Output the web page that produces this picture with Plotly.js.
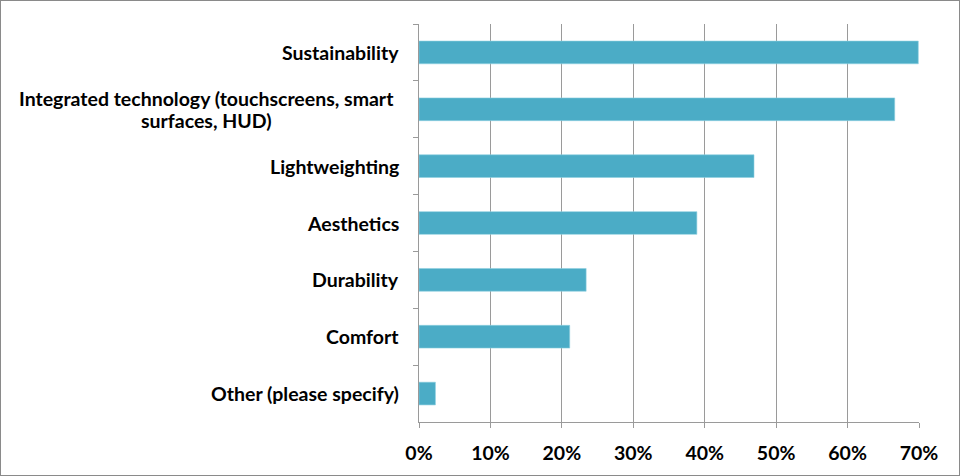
<!DOCTYPE html>
<html>
<head>
<meta charset="utf-8">
<script src="https://cdn.plot.ly/plotly-3.0.1.min.js"></script>
<style>
html,body{margin:0;padding:0;background:#fff;}
#frame{width:960px;height:476px;box-sizing:border-box;border:1px solid #8a8a8a;overflow:hidden;}
#chart{width:958px;height:474px;}
</style>
</head>
<body>
<div id="frame"><div id="chart"></div></div>
<script>
var categories = [
  "Sustainability",
  "Integrated technology (touchscreens, smart<br>surfaces, HUD)",
  "Lightweighting",
  "Aesthetics",
  "Durability",
  "Comfort",
  "Other (please specify)"
];
var values = [0.699, 0.666, 0.469, 0.389, 0.234, 0.211, 0.023];
var tickVals = [0, 0.1, 0.2, 0.3, 0.4, 0.5, 0.6, 0.7];
var tickText = ["0%", "10%", "20%", "30%", "40%", "50%", "60%", "70%"];

var font = {family: "Lato, 'Open Sans', sans-serif", size: 19.5, color: "#000"};

var trace = {
  type: "bar",
  orientation: "h",
  y: categories,
  x: values,
  width: 0.4,
  marker: {color: "#4BACC6", line: {color: "#8fd0e0", width: 0.6}},
  hoverinfo: "none"
};

var annotations = [];
categories.forEach(function (c) {
  var lines = c.split("<br>");
  var n = lines.length, lh = 22;
  lines.forEach(function (ln, i) {
    annotations.push({
      xref: "paper", yref: "y", x: -0.037, y: c,
      text: "<b>" + ln + "</b>", showarrow: false,
      xanchor: (n > 1 ? "center" : "right"), yanchor: "middle",
      xshift: (n > 1 ? -194 : 0),
      yshift: (n - 1) / 2 * lh - i * lh,
      font: font
    });
  });
});

var layout = {
  width: 958, height: 474,
  margin: {l: 418, r: 40, t: 23, b: 53},
  paper_bgcolor: "#fff", plot_bgcolor: "#fff",
  showlegend: false,
  xaxis: {
    range: [0, 0.7],
    tickvals: tickVals,
    ticktext: tickText.map(function (t) { return "<b>" + t + "</b>"; }),
    showgrid: true, gridcolor: "#9a9a9a", gridwidth: 1,
    showline: true, linecolor: "#9a9a9a", linewidth: 1,
    ticks: "outside", ticklen: 5, tickcolor: "#9a9a9a",
    ticklabelstandoff: 9,
    tickfont: font, zeroline: false, fixedrange: true
  },
  yaxis: {
    type: "category",
    autorange: "reversed",
    showticklabels: false,
    showgrid: false,
    showline: true, linecolor: "#9a9a9a", linewidth: 1,
    ticks: "outside", ticklen: 5, tickcolor: "#9a9a9a",
    tickson: "boundaries", zeroline: false, fixedrange: true
  },
  annotations: annotations
};

Plotly.newPlot("chart", [trace], layout, {displayModeBar: false, staticPlot: true});
</script>
</body>
</html>
